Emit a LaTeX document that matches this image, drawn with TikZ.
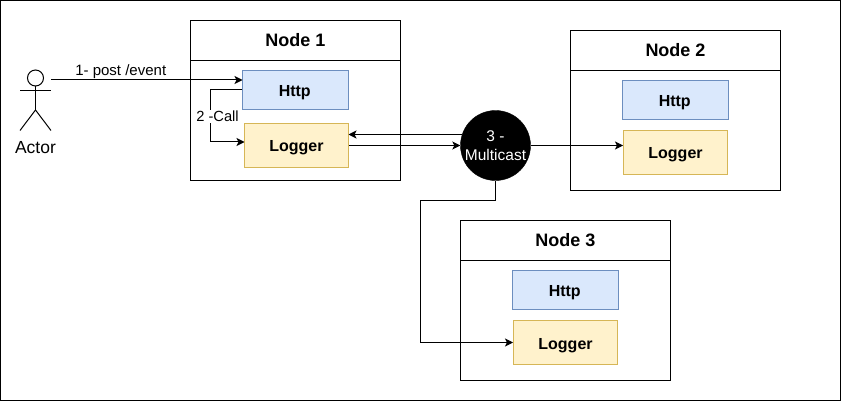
\documentclass[tikz,border=0pt]{standalone}
\usepackage{fontspec}
\setmainfont{Liberation Sans}
\usetikzlibrary{arrows.meta}
\definecolor{httpfill}{HTML}{DAE8FC}
\definecolor{httpline}{HTML}{6C8EBF}
\definecolor{logfill}{HTML}{FFF2CC}
\definecolor{logline}{HTML}{D6B656}
\tikzset{
  panel/.style={draw=black,fill=white,minimum width=210pt,minimum height=160pt,inner sep=0pt,line width=1pt},
  panelhead/.style={draw=black,minimum width=210pt,minimum height=40pt,inner sep=0pt,line width=1pt,text height=12pt,text depth=0pt,font=\bfseries\fontsize{18}{20}\selectfont},
  httpbox/.style={draw=httpline,fill=httpfill,minimum width=106pt,minimum height=39pt,inner sep=0pt,line width=1pt,text height=13pt,text depth=0pt,font=\bfseries\fontsize{16}{18}\selectfont},
  logbox/.style={draw=logline,fill=logfill,minimum width=104pt,minimum height=44pt,inner sep=0pt,line width=1pt,text height=13pt,text depth=0pt,font=\bfseries\fontsize{16}{18}\selectfont},
  conn/.style={draw=black,line width=1pt,-{Stealth[length=8pt,width=8pt,inset=2pt]}},
  plain/.style={draw=black,line width=1pt},
  lbl/.style={inner sep=1pt,font=\fontsize{15}{17}\selectfont},
}
\begin{document}
\begin{tikzpicture}[x=1pt,y=-1pt]
\useasboundingbox (0,0) rectangle (841,401);
\draw[black,line width=1pt] (0.5,0.5) rectangle (840.5,400.5);
% panels
\node[panel] (n1) at (295.5,100.5) {};
\node[panelhead,anchor=north] (h1) at (n1.north) {Node 1};
\node[httpbox] (http1) at (295.5,90) {Http\kern1.5pt};
\node[logbox] (log1) at (296.5,145.5) {Logger};
\node[panel] (n2) at (675.5,110.5) {};
\node[panelhead,anchor=north] (h2) at (n2.north) {Node 2};
\node[httpbox] (http2) at (675.5,100) {Http\kern1.5pt};
\node[logbox] (log2) at (675.5,152.5) {Logger};
\node[panel] (n3) at (565.5,300.5) {};
\node[panelhead,anchor=north] (h3) at (n3.north) {Node 3};
\node[httpbox] (http3) at (565.5,290) {Http\kern1.5pt};
\node[logbox] (log3) at (565.5,342.5) {Logger};
% multicast
\node[circle,fill=black,draw=black,minimum size=70pt,inner sep=0pt,text=white,align=center,font=\fontsize{15.5}{19}\selectfont] (mc) at (495.5,145.5) {\raisebox{-1pt}{3 -}\\\raisebox{-1pt}{Multicast}};
% actor
\node[circle,draw=black,fill=white,line width=1pt,minimum size=16pt,inner sep=0pt] (head) at (35.5,78) {};
\coordinate (hip) at (35.5,110);
\coordinate (armL) at (20,90.5);
\coordinate (armR) at (51,90.5);
\coordinate (legL) at (20,130.5);
\coordinate (legR) at (51,130.5);
\draw[plain] (head.south) -- (hip);
\draw[plain] (armL) -- (armR);
\draw[plain] (legL) -- (hip) -- (legR);
\node[inner sep=0pt,font=\fontsize{17.5}{20}\selectfont] (actor) at (35.5,147.5) {Actor};
% connectors
\coordinate (actorOut) at (51,80);
\coordinate (httpIn) at (242.5,80);
\draw[conn] (actorOut) -- node[lbl,above,yshift=-0.5pt,xshift=-26pt] (l1) {1- post /event} (httpIn);
\coordinate (callIn) at (244.5,142);
\draw[conn] (http1.west) -- (210.5,90) -- (210.5,142) -- (callIn);
\node[lbl,fill=white,font=\fontsize{14.7}{17}\selectfont] (l2) at (217.5,116.5) {2 -Call};
\draw[conn] (log1.east) -- (mc.west);
\coordinate (mcBack) at (461.5,134.5);
\coordinate (logBack) at (348.5,134.5);
\draw[conn] (mcBack) -- (logBack);
\draw[conn] (mc.east) -- (log2.west |- mc.east);
\draw[conn] (mc.south) -- (495.5,200.5) -- (420.5,200.5) -- (420.5,342.5) -- (log3.west);
\end{tikzpicture}
\end{document}
